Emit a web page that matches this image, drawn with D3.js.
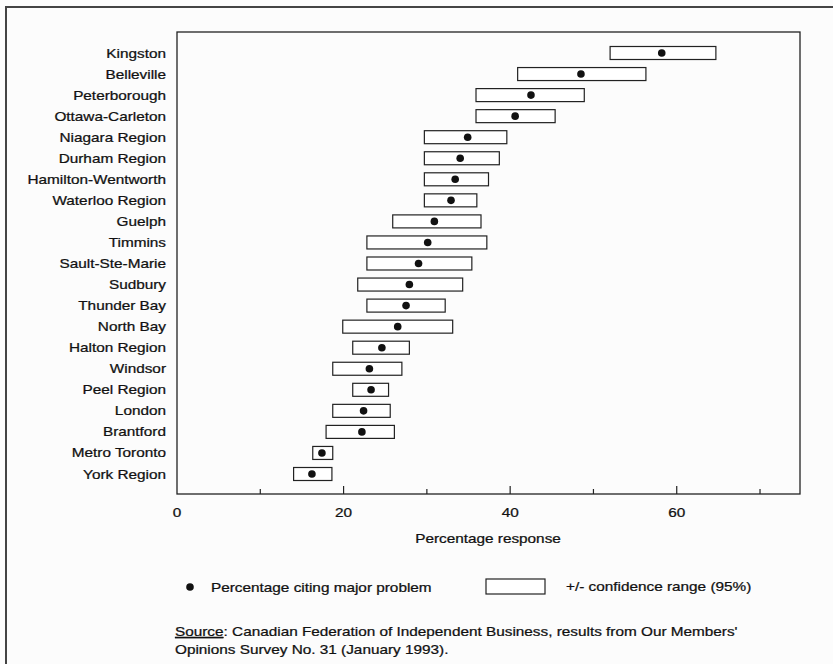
<!DOCTYPE html>
<html><head><meta charset="utf-8">
<script src="https://cdn.jsdelivr.net/npm/d3@7"></script>
<style>body{margin:0;background:#fff;} svg{display:block;font-family:"Liberation Sans",Arial,sans-serif;}</style>
</head><body>
<script>
const categories = ["Kingston","Belleville","Peterborough","Ottawa-Carleton","Niagara Region","Durham Region","Hamilton-Wentworth","Waterloo Region","Guelph","Timmins","Sault-Ste-Marie","Sudbury","Thunder Bay","North Bay","Halton Region","Windsor","Peel Region","London","Brantford","Metro Toronto","York Region"];
const percent = [58.2,48.5,42.5,40.6,34.9,34.0,33.4,32.9,30.9,30.1,29.0,27.9,27.5,26.5,24.6,23.1,23.3,22.4,22.2,17.4,16.2];
const lower = [52.0,40.9,35.9,35.9,29.7,29.7,29.7,29.7,25.9,22.8,22.8,21.7,22.8,19.9,21.1,18.7,21.1,18.7,17.9,16.3,14.0];
const upper = [64.7,56.3,48.9,45.4,39.6,38.7,37.4,36.0,36.5,37.2,35.4,34.3,32.2,33.1,27.9,27.0,25.4,25.6,26.1,18.7,18.6];
const xTicks = [0,10,20,30,40,50,60,70];
const xTickLabels = ["0","20","40","60"];

const W=833,H=664;
const SX=1.18;
const svg=d3.select("body").append("svg").attr("width",W).attr("height",H);
svg.append("rect").attr("width",W).attr("height",H).attr("fill","#fcfcfc");
svg.append("path").attr("d","M6,"+(H+5)+"V7H"+(W+5)).attr("fill","none").attr("stroke","#444").attr("stroke-width",2);

function label(px,py,anchor,size){
  const g=svg.append("g").attr("transform",`translate(${px},${py}) scale(${SX},1)`);
  return g.append("text").attr("x",0).attr("y",0).attr("text-anchor",anchor)
    .attr("font-size",size).attr("fill","#111").attr("stroke","#111").attr("stroke-width",0.25);
}

const x=d3.scaleLinear().domain([0,74.8]).range([177,800]);
const y=d3.scalePoint().domain(categories).range([53,474]);
const ink="#222";
svg.append("rect").attr("x",177).attr("y",32).attr("width",623).attr("height",462)
  .attr("fill","none").attr("stroke",ink).attr("stroke-width",1.3);

const gx=svg.append("g").attr("transform","translate(0,494)");
gx.selectAll("line").data(xTicks.filter(d=>d>0)).enter().append("line")
  .attr("x1",d=>x(d)).attr("x2",d=>x(d)).attr("y1",0).attr("y2",d=>d%20===0?-8:-5)
  .attr("stroke",ink).attr("stroke-width",1.2);
xTickLabels.forEach(t=>label(x(+t),517,"middle",13).text(t));
label(488,543,"middle",13).text("Percentage response");

categories.forEach(c=>label(166,y(c)+4.5,"end",13).text(c));

svg.selectAll("rect.ci").data(categories).enter().append("rect").attr("class","ci")
  .attr("x",(d,i)=>x(lower[i])).attr("width",(d,i)=>x(upper[i])-x(lower[i]))
  .attr("y",d=>y(d)-6.5).attr("height",13)
  .attr("fill","#fff").attr("stroke",ink).attr("stroke-width",1.2);
svg.selectAll("circle.pt").data(categories).enter().append("circle").attr("class","pt")
  .attr("cx",(d,i)=>x(percent[i])).attr("cy",d=>y(d)).attr("r",3.8).attr("fill","#111");

svg.append("circle").attr("cx",190).attr("cy",587).attr("r",3.8).attr("fill","#111");
label(211,591.5,"start",13).text("Percentage citing major problem");
svg.append("rect").attr("x",486).attr("y",579).attr("width",59).attr("height",15).attr("fill","#fff").attr("stroke",ink).attr("stroke-width",1.2);
label(566,591,"start",13).text("+/- confidence range (95%)");

const s1=label(175,636,"start",13);
s1.append("tspan").attr("text-decoration","underline").text("Source");
s1.append("tspan").text(": Canadian Federation of Independent Business, results from Our Members'");
label(175,654,"start",13).text("Opinions Survey No. 31 (January 1993).");
</script>
</body></html>
